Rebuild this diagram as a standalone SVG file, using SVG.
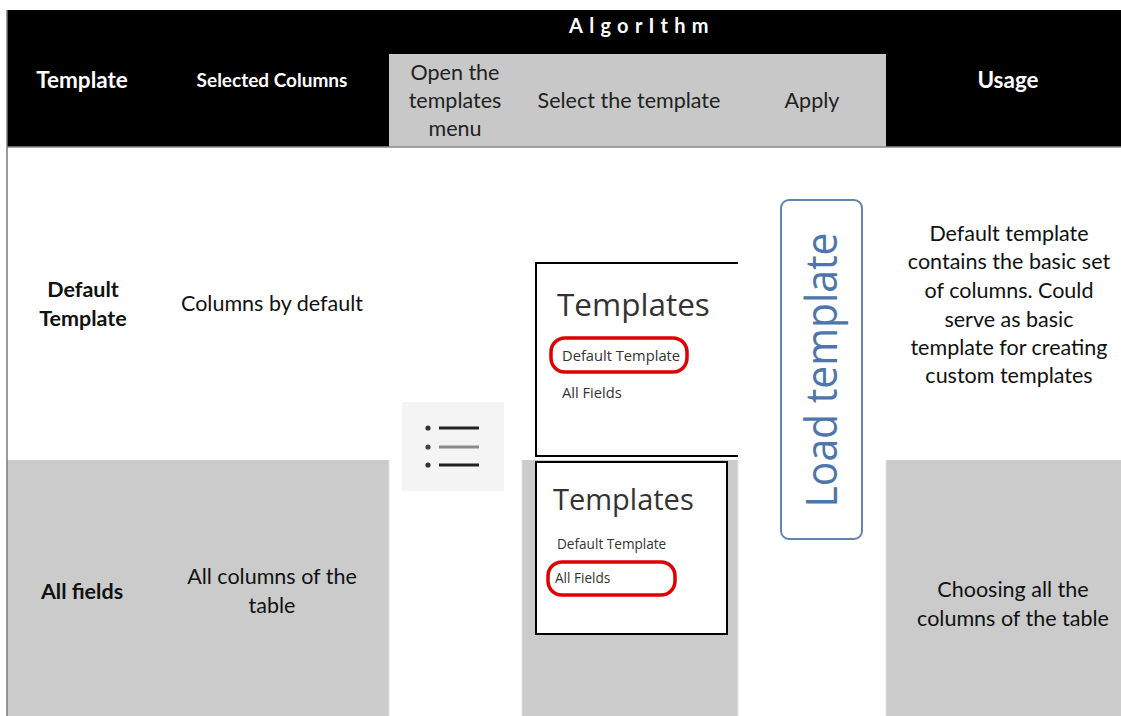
<svg xmlns="http://www.w3.org/2000/svg" width="1121" height="716" viewBox="0 0 1121 716">
  <style>
    .hd { font-family: "Lato", "Liberation Sans", sans-serif; font-weight: 700; fill: #ffffff; text-anchor: middle; }
    .sub { font-family: "Lato", "Liberation Sans", sans-serif; font-size: 21.5px; fill: #222222; text-anchor: middle; }
    .body { font-family: "Lato", "Liberation Sans", sans-serif; font-size: 21.5px; fill: #111111; text-anchor: middle; }
    .bold { font-weight: 700; }
    .ui { font-family: "Open Sans", "Noto Sans", sans-serif; fill: #333333; }
    .cellGray { fill: #cbcbcb; }
    .sep { stroke: #e2e2e2; stroke-width: 1; }
    .ring { fill: none; stroke: #e00000; stroke-width: 3.5; }
  </style>

  <!-- page background -->
  <rect x="0" y="0" width="1121" height="716" fill="#ffffff"/>

  <!-- header band -->
  <g id="header">
    <rect x="7" y="10" width="1114" height="137" fill="#000000"/>
    <rect x="389" y="54" width="497" height="93" fill="#c8c8c8"/>
    <line x1="7" y1="147" x2="1121" y2="147" stroke="#8a8a8a" stroke-width="1.5"/>
    <text class="hd" x="569" y="33" font-size="20" letter-spacing="6.3" style="text-anchor:start">AlgorIthm</text>
    <text class="hd" x="82" y="88" font-size="22.5">Template</text>
    <text class="hd" x="272" y="87" font-size="19">Selected Columns</text>
    <text class="hd" x="1008" y="88" font-size="22.5">Usage</text>
    <text class="sub" x="455" y="80">Open the</text>
    <text class="sub" x="455" y="108">templates</text>
    <text class="sub" x="455" y="136">menu</text>
    <text class="sub" x="629" y="108">Select the template</text>
    <text class="sub" x="812" y="108">Apply</text>
  </g>

  <!-- second row shading -->
  <g id="row-all-fields-bg">
    <rect class="cellGray" x="7" y="460" width="382" height="256"/>
    <rect class="cellGray" x="522" y="460" width="216" height="256"/>
    <rect class="cellGray" x="886" y="460" width="235" height="256"/>
    <line class="sep" x1="389" y1="460" x2="389" y2="716"/>
    <line class="sep" x1="522" y1="460" x2="522" y2="716"/>
    <line class="sep" x1="738" y1="460" x2="738" y2="716"/>
    <line class="sep" x1="886" y1="460" x2="886" y2="716"/>
  </g>

  <!-- outer left border -->
  <line x1="7" y1="10" x2="7" y2="716" stroke="#7a7a7a" stroke-width="1.5"/>

  <!-- row 1: Default Template -->
  <g id="row-default">
    <text class="body bold" x="83" y="297">Default</text>
    <text class="body bold" x="83" y="326">Template</text>
    <text class="body" x="272" y="311">Columns by default</text>
    <text class="body" x="1009" y="241">Default template</text>
    <text class="body" x="1009" y="269">contains the basic set</text>
    <text class="body" x="1009" y="298">of columns. Could</text>
    <text class="body" x="1009" y="327">serve as basic</text>
    <text class="body" x="1009" y="355">template for creating</text>
    <text class="body" x="1009" y="383">custom templates</text>
  </g>

  <!-- row 2: All fields -->
  <g id="row-all-fields">
    <text class="body bold" x="82" y="599">All fields</text>
    <text class="body" x="272" y="584">All columns of the</text>
    <text class="body" x="272" y="613">table</text>
    <text class="body" x="1013" y="597">Choosing all the</text>
    <text class="body" x="1013" y="626">columns of the table</text>
  </g>

  <!-- templates menu icon -->
  <g id="menu-icon">
    <rect x="402" y="402" width="102" height="89" fill="#f4f4f4"/>
    <circle cx="428" cy="428" r="2.6" fill="#333333"/>
    <circle cx="428" cy="447" r="2.6" fill="#444444"/>
    <circle cx="428" cy="465" r="2.6" fill="#333333"/>
    <line x1="439" y1="428" x2="479" y2="428" stroke="#222222" stroke-width="3.2"/>
    <line x1="439" y1="447" x2="479" y2="447" stroke="#8a8a8a" stroke-width="3.2"/>
    <line x1="439" y1="465" x2="479" y2="465" stroke="#222222" stroke-width="3.2"/>
  </g>

  <!-- templates list with Default Template selected -->
  <g id="templates-default">
    <rect x="536" y="263" width="202" height="193" fill="#ffffff"/>
    <path d="M738 263 H536 V456 H738" fill="none" stroke="#000000" stroke-width="2"/>
    <text class="ui" x="557" y="316" font-size="31.5">Templates</text>
    <text class="ui" x="562" y="361" font-size="14.7">Default Template</text>
    <text class="ui" x="562" y="398" font-size="14.7">All Fields</text>
    <rect class="ring" x="551" y="338" width="136" height="34" rx="14"/>
  </g>

  <!-- templates list with All Fields selected -->
  <g id="templates-all">
    <rect x="536" y="462" width="191" height="172" fill="#ffffff" stroke="#000000" stroke-width="2"/>
    <text class="ui" x="553" y="510" font-size="29">Templates</text>
    <text class="ui" x="557" y="549" font-size="13.6">Default Template</text>
    <text class="ui" x="555" y="583" font-size="13.6">All Fields</text>
    <rect class="ring" x="548" y="562" width="127" height="33" rx="14"/>
  </g>

  <!-- Load template button -->
  <g id="load-template">
    <rect x="781" y="200" width="81" height="339" rx="8" fill="#ffffff" stroke="#6384ae" stroke-width="2"/>
    <text transform="translate(837 370) rotate(-90)" x="0" y="0" font-family="'Open Sans', 'Noto Sans', sans-serif" font-weight="400" font-size="43" fill="#4f76aa" text-anchor="middle" textLength="275" lengthAdjust="spacingAndGlyphs">Load template</text>
  </g>
</svg>
